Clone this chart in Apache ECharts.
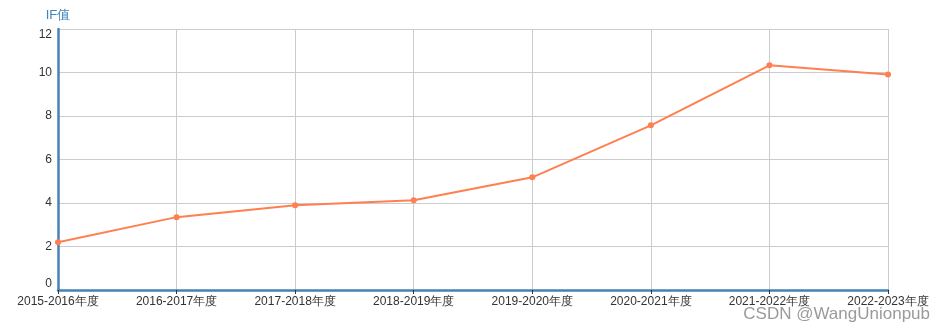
<!DOCTYPE html>
<html><head><meta charset="utf-8">
<script src="https://cdn.jsdelivr.net/npm/echarts@6/dist/echarts.min.js"></script>
<style>html,body{margin:0;padding:0;background:#fff}#c{width:944px;height:332px}</style>
</head><body><div id="c"></div>
<script>
const categories = ['2015-2016年度','2016-2017年度','2017-2018年度','2018-2019年度','2019-2020年度','2020-2021年度','2021-2022年度','2022-2023年度'];
const ifValues = [2.2, 3.35, 3.9, 4.13, 5.18, 7.57, 10.33, 9.91];
const yTicks = {min: 0, max: 12, interval: 2};
const chart = echarts.init(document.getElementById('c'));
chart.setOption({
  animation: false,
  grid: {left: 58, right: 56, top: 29, bottom: 42, containLabel: false},
  xAxis: {
    type: 'category', data: categories, boundaryGap: false,
    axisLine: {lineStyle: {color: '#4682B4', width: 2.5}},
    axisTick: {show: true, alignWithLabel: true, length: 4, lineStyle: {color: '#333'}},
    axisLabel: {color: '#333', fontSize: 12, margin: 6, interval: 0, fontFamily: 'Liberation Sans, Arial, sans-serif'},
    splitLine: {show: true, lineStyle: {color: '#ccc'}}
  },
  yAxis: {
    type: 'value', min: yTicks.min, max: yTicks.max, interval: yTicks.interval,
    name: 'IF值', nameGap: 7,
    nameTextStyle: {color: '#3a86c0', fontSize: 13, align: 'center', fontFamily: 'Liberation Sans, Arial, sans-serif'},
    axisLine: {show: true, lineStyle: {color: '#4682B4', width: 2.5}},
    axisTick: {show: false},
    axisLabel: {color: '#333', fontSize: 12, margin: 6, verticalAlignMaxLabel: 'top', verticalAlignMinLabel: 'bottom', fontFamily: 'Liberation Sans, Arial, sans-serif'},
    splitLine: {show: true, lineStyle: {color: '#ccc'}}
  },
  series: [{
    type: 'line', data: ifValues, symbol: 'circle', symbolSize: 6,
    lineStyle: {color: '#FF7F50', width: 2}, itemStyle: {color: '#FF7F50'}
  }],
  graphic: [{
    type: 'text', right: 14, top: 306,
    style: {text: 'CSDN @WangUnionpub', fill: 'rgba(120,120,120,0.75)', font: '17px "Liberation Sans", Arial, sans-serif'}
  }]
});
</script></body></html>
